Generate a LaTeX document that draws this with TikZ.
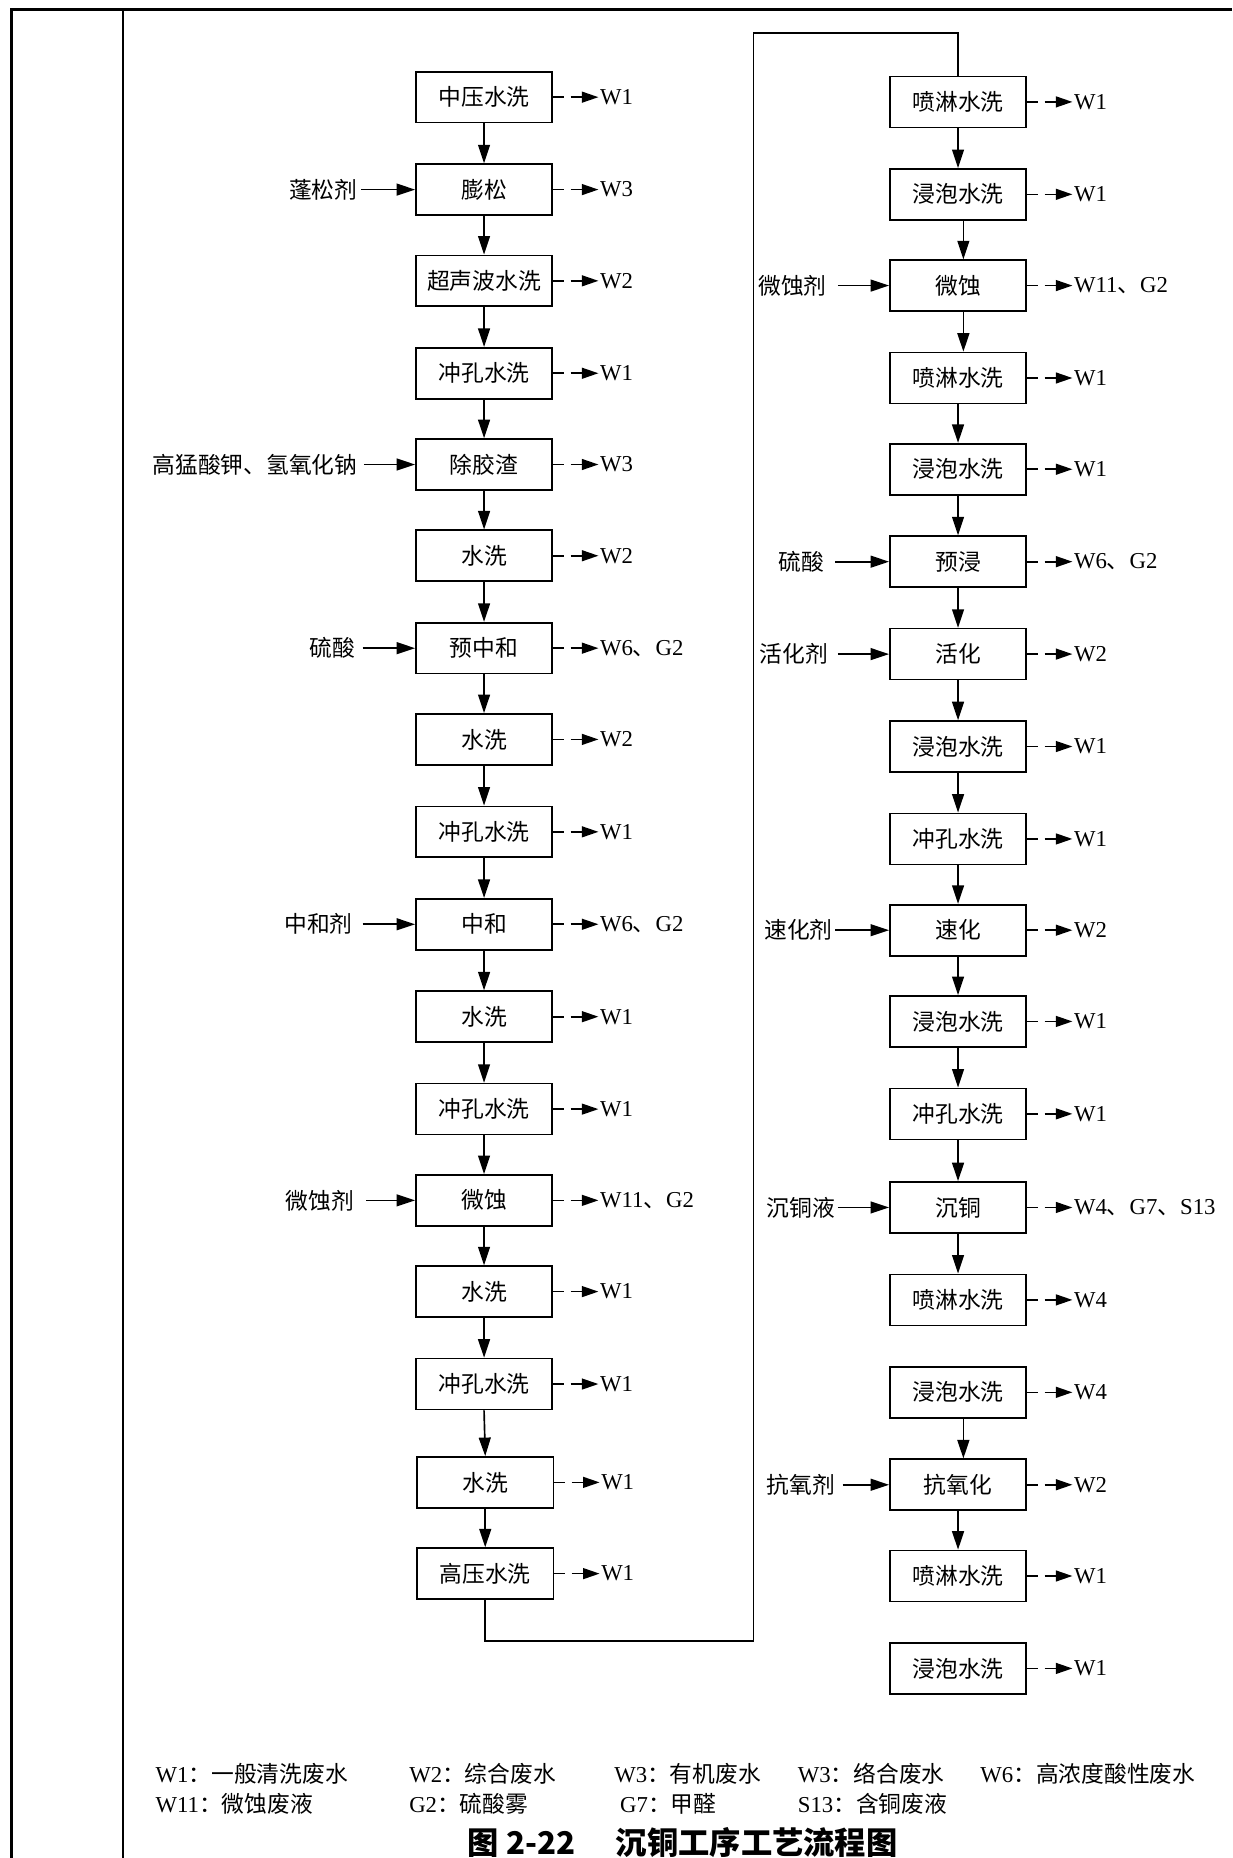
\documentclass[tikz,border=0pt]{standalone}
\usepackage{fontspec}
\setmainfont{Liberation Serif}
\newfontfamily\cjk{Noto Sans CJK SC}
\usetikzlibrary{arrows.meta}
\begin{document}
\begin{tikzpicture}[x=0.5pt,y=-0.5pt,
  every node/.style={font=\fontsize{9.6}{11}\selectfont},
  procbox/.style={draw, line width=0.7pt, minimum width=57.5pt, minimum height=21.5pt, inner sep=0pt, font=\cjk\fontsize{9.6}{11}\selectfont},
  inlbl/.style={inner sep=0pt, font=\cjk\fontsize{9.6}{11}\selectfont},
  olbl/.style={inner xsep=0.5pt, inner ysep=0pt, anchor=west, font=\fontsize{9.6}{11}\selectfont},
  legend/.style={inner sep=0pt, anchor=west, font=\fontsize{9.6}{11}\selectfont},
  arr/.style={line width=0.7pt, -{Triangle[length=7.8pt,width=5pt]}},
  outarr/.style={line width=0.7pt, dash pattern=on 4.6pt off 2.8pt on 40pt, -{Triangle[length=7pt,width=4.6pt]}},
  flow/.style={line width=0.7pt}
]
\useasboundingbox (0,0) rectangle (1040,1568);
% frame
\draw[line width=1.2pt] (10,1568) -- (10,8) -- (1040,8);
\draw[line width=0.8pt] (104,8) -- (104,1568);

% left column
\foreach \n/\xx/\yy/\t/\o in {
  1/408.5/82/中压水洗/W1,
  2/408.5/160/膨松/W3,
  3/408.5/237/超声波水洗/W2,
  4/408.5/315/冲孔水洗/W1,
  5/408.5/392/除胶渣/W3,
  6/408.5/469/水洗/W2,
  7/408.5/547/预中和/{W6{\cjk 、}G2},
  8/408.5/624/水洗/W2,
  9/408.5/702/冲孔水洗/W1,
  10/408.5/780/中和/{W6{\cjk 、}G2},
  11/408.5/858/水洗/W1,
  12/408.5/936/冲孔水洗/W1,
  13/408.5/1013/微蚀/{W11{\cjk 、}G2},
  14/408.5/1090/水洗/W1,
  15/408.5/1168/冲孔水洗/W1,
  16/409.5/1251/水洗/W1,
  17/409.5/1328/高压水洗/W1}{
  \node[procbox] (l\n) at (\xx,\yy) {\t};
  \node[olbl] (lo\n) at (\xx+96.5,\yy) {\o};
  \draw[outarr] (l\n.east) -- (lo\n.west);
}
\foreach \a/\b in {1/2,2/3,3/4,4/5,5/6,6/7,7/8,8/9,9/10,10/11,11/12,12/13,13/14,14/15,15/16,16/17}{
  \draw[arr] (l\a.south) -- (l\b.north);
}

% right column
\foreach \n/\yy/\t/\o in {
  1/86/喷淋水洗/W1,
  2/164/浸泡水洗/W1,
  3/241/微蚀/{W11{\cjk 、}G2},
  4/319/喷淋水洗/W1,
  5/396/浸泡水洗/W1,
  6/474/预浸/{W6{\cjk 、}G2},
  7/552/活化/W2,
  8/630/浸泡水洗/W1,
  9/708/冲孔水洗/W1,
  10/785/速化/W2,
  11/862/浸泡水洗/W1,
  12/940/冲孔水洗/W1,
  13/1019/沉铜/{W4{\cjk 、}G7{\cjk 、}S13},
  14/1097/喷淋水洗/W4,
  15/1175/浸泡水洗/W4,
  16/1253/抗氧化/W2,
  17/1330/喷淋水洗/W1,
  18/1408/浸泡水洗/W1}{
  \node[procbox] (r\n) at (808.5,\yy) {\t};
  \node[olbl] (ro\n) at (905,\yy) {\o};
  \draw[outarr] (r\n.east) -- (ro\n.west);
}
\foreach \a/\b/\s in {1/2/0,2/3/2.25,3/4/2.25,4/5/0,5/6/0,6/7/0,7/8/0,8/9/0,9/10/0,10/11/0,11/12/0,12/13/0,13/14/0,15/16/2.25,16/17/0}{
  \draw[arr] ([xshift=\s pt]r\a.south) -- ([xshift=\s pt]r\b.north);
}

% loop connector
\coordinate (c1) at (409.5,1385);
\coordinate (c2) at (636,1385);
\coordinate (c3) at (636,28);
\coordinate (c4) at (808.5,28);
\draw[flow] (l17.south) -- (c1) -- (c2) -- (c3) -- (c4) -- (r1.north);

% left inputs
\node[inlbl, anchor=east] (il2) at (302,160) {蓬松剂};
\draw[arr] ([xshift=1.5pt]il2.east) -- (l2.west);
\node[inlbl, anchor=east] (il5) at (302,392) {高猛酸钾、氢氧化钠};
\draw[arr] ([xshift=2.5pt]il5.east) -- (l5.west);
\node[inlbl, anchor=east] (il7) at (300,547) {硫酸};
\draw[arr] ([xshift=3pt]il7.east) -- (l7.west);
\node[inlbl, anchor=east] (il10) at (298,780) {中和剂};
\draw[arr] ([xshift=4pt]il10.east) -- (l10.west);
\node[inlbl, anchor=east] (il13) at (299,1013) {微蚀剂};
\draw[arr] ([xshift=5pt]il13.east) -- (l13.west);

% right inputs
\node[inlbl, anchor=east] (ir3) at (698,241) {微蚀剂};
\draw[arr] ([xshift=4.5pt]ir3.east) -- (r3.west);
\node[inlbl, anchor=east] (ir6) at (696,474) {硫酸};
\draw[arr] ([xshift=4.5pt]ir6.east) -- (r6.west);
\node[inlbl, anchor=east] (ir7) at (699,552) {活化剂};
\draw[arr] ([xshift=4pt]ir7.east) -- (r7.west);
\node[inlbl, anchor=east] (ir10) at (703,785) {速化剂};
\draw[arr] ([xshift=1pt]ir10.east) -- (r10.west);
\node[inlbl, anchor=east] (ir13) at (705,1019) {沉铜液};
\draw[arr] ([xshift=1pt]ir13.east) -- (r13.west);
\node[inlbl, anchor=east] (ir16) at (705,1253) {抗氧剂};
\draw[arr] ([xshift=3pt]ir16.east) -- (r16.west);

% legend
\node[legend] (g1) at (131,1497) {W1{\cjk ：一般清洗废水}};
\node[legend] (g2) at (345,1497) {W2{\cjk ：综合废水}};
\node[legend] (g3) at (518,1497) {W3{\cjk ：有机废水}};
\node[legend] (g4) at (673,1497) {W3{\cjk ：络合废水}};
\node[legend] (g5) at (827,1497) {W6{\cjk ：高浓度酸性废水}};
\node[legend] (g6) at (131,1522) {W11{\cjk ：微蚀废液}};
\node[legend] (g7) at (345,1522) {G2{\cjk ：硫酸雾}};
\node[legend] (g8) at (523,1522) {G7{\cjk ：甲醛}};
\node[legend] (g9) at (673,1522) {S13{\cjk ：含铜废液}};

% title
\node[inner sep=0pt, font=\cjk\bfseries\fontsize{13.2}{15}\selectfont] (title) at (576,1555) {图 2-22\hspace{1.3em}沉铜工序工艺流程图};
\end{tikzpicture}
\end{document}
